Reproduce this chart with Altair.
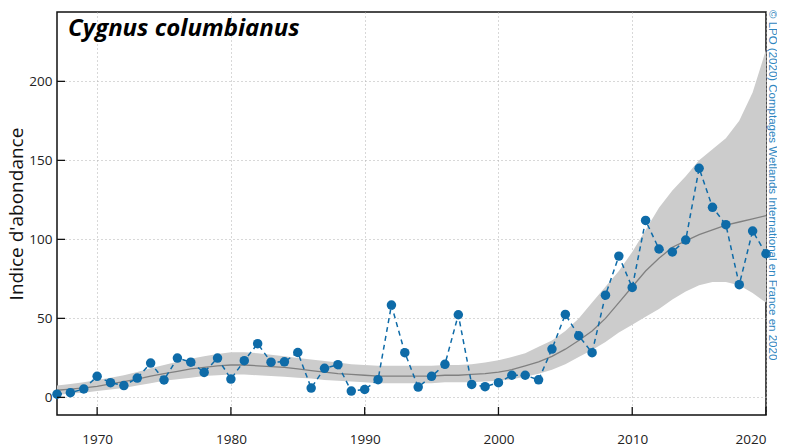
import altair as alt
import pandas as pd

years = list(range(1967, 2021))
index_values = [2, 3, 5.3, 13.3, 9.3, 7.5, 12.2, 21.7, 11, 24.9,
                22.3, 15.8, 24.9, 11.6, 23.2, 34, 22.3, 22.5, 28.4, 5.9,
                18.4, 20.7, 4, 5, 11.2, 58.4, 28.3, 6.5, 13.3, 20.9,
                52.3, 8.2, 6.8, 9.3, 14, 14, 11.1, 30.6, 52.5, 39,
                28.3, 64.7, 89.4, 69.6, 112, 93.9, 92, 99.6, 145, 120.3,
                109.3, 71.3, 105.3, 90.9]
trend = [4.5, 5.2, 6, 7, 8.5, 10, 11.5, 13.5, 15, 16.5,
         18, 19, 20, 20.5, 20.5, 20, 19.5, 19, 18, 17,
         16, 15, 14.5, 14, 13.5, 13.5, 13.5, 13.5, 13.5, 14,
         14, 14.5, 15, 16, 17.5, 20, 22.5, 26, 30.5, 36,
         42, 50, 60, 70, 80, 88, 95, 99, 103, 106,
         109, 111, 113, 115]
lower = [1.5, 2.5, 3, 4, 5, 6, 7.5, 9, 10.5, 11.5,
         12.5, 13.5, 14, 14.5, 14.5, 14, 13.5, 13, 12.5, 12,
         11, 10.5, 10, 9.5, 9, 9, 9, 9, 9, 9.5,
         9.5, 9.5, 10, 10.5, 11.5, 13, 15, 17.5, 21, 25.5,
         30, 35, 41, 46, 51, 56, 62, 67, 71, 73,
         73, 71, 66, 60]
upper = [7.5, 8.5, 9.5, 11, 12.5, 14, 16, 18.5, 20.5, 22.5,
         24.5, 26, 27.5, 28.5, 28.5, 28, 27, 26, 25, 24,
         23, 22, 21, 20.5, 20, 20, 20, 20, 20, 20.5,
         20.5, 21, 22, 23.5, 25.5, 28, 32, 36, 42, 50,
         60, 70, 80, 92, 106, 120, 131, 140, 150, 157,
         164, 175, 193, 220]

x_ticks = [1970, 1980, 1990, 2000, 2010, 2020]
y_ticks = [0, 50, 100, 150, 200]

title_text = "Cygnus columbianus"
note_text = "© LPO (2020) Comptages Wetlands International en France en 2020"

W, H = 709, 403
BLUE = "#0e6ba8"

df = pd.DataFrame({"year": years, "value": index_values, "trend": trend,
                   "lower": lower, "upper": upper})
xt = pd.DataFrame({"year": x_ticks})
yt = pd.DataFrame({"v": y_ticks})

xscale = alt.Scale(domain=[1967, 2020], nice=False, zero=False)
yscale = alt.Scale(domain=[-11.15, 243.9], nice=False, zero=False)

xaxis = alt.Axis(values=x_ticks, format="d", grid=True, gridDash=[1, 3],
                 gridColor="#b0b0b0", gridWidth=1, ticks=False, domain=False,
                 labelPadding=17, labelFontSize=13.5, labelColor="#222222",
                 labelFont="Open Sans", title=None)
yaxis = alt.Axis(values=y_ticks, grid=True, gridDash=[1, 3],
                 gridColor="#b0b0b0", gridWidth=1, ticks=False, domain=False,
                 labelPadding=5, labelFontSize=13.5, labelColor="#222222",
                 labelFont="Open Sans", title="Indice d'abondance",
                 titleFontSize=19, titleFontWeight="normal", titleFont="Open Sans",
                 titleColor="#111111", titlePadding=2)

base = alt.Chart(df)

band = base.mark_area(color="#cccccc", opacity=1).encode(
    x=alt.X("year:Q", scale=xscale, axis=xaxis),
    y=alt.Y("lower:Q", scale=yscale, axis=yaxis),
    y2="upper:Q",
)
trend_line = base.mark_line(color="#808080", strokeWidth=1.3).encode(
    x=alt.X("year:Q", scale=xscale), y=alt.Y("trend:Q", scale=yscale))
dash_line = base.mark_line(color=BLUE, strokeWidth=1.5, strokeDash=[5, 4]).encode(
    x=alt.X("year:Q", scale=xscale), y=alt.Y("value:Q", scale=yscale))
points = base.mark_circle(color=BLUE, size=90, opacity=1).encode(
    x=alt.X("year:Q", scale=xscale), y=alt.Y("value:Q", scale=yscale))

xticks_marks = alt.Chart(xt).mark_rule(color="#111111", strokeWidth=1.3).encode(
    x=alt.X("year:Q", scale=xscale), y=alt.value(H), y2=alt.value(H - 8))
yticks_marks = alt.Chart(yt).mark_rule(color="#111111", strokeWidth=1.3).encode(
    y=alt.Y("v:Q", scale=yscale), x=alt.value(0), x2=alt.value(8))

title_mark = alt.Chart(pd.DataFrame({"t": [title_text]})).mark_text(
    font="Open Sans", fontSize=24, fontWeight="bold", fontStyle="italic",
    align="left", baseline="alphabetic", color="#000000"
).encode(text="t:N", x=alt.value(11), y=alt.value(24))

note_mark = alt.Chart(pd.DataFrame({"t": [note_text]})).mark_text(
    font="Liberation Sans", fontSize=11.5, angle=90, align="left",
    baseline="middle", color="#2f86c0"
).encode(text="t:N", x=alt.value(714.5), y=alt.value(-2))

chart = alt.layer(band, trend_line, dash_line, points, xticks_marks, yticks_marks,
                  title_mark, note_mark).properties(
    width=W, height=H,
    autosize=alt.AutoSizeParams(type="none"),
    padding={"left": 49, "top": 4, "right": 11, "bottom": 32},
).configure_view(stroke="#111111", strokeWidth=1.5)

chart.save("out.html", embed_options={"renderer": "svg", "actions": False})
